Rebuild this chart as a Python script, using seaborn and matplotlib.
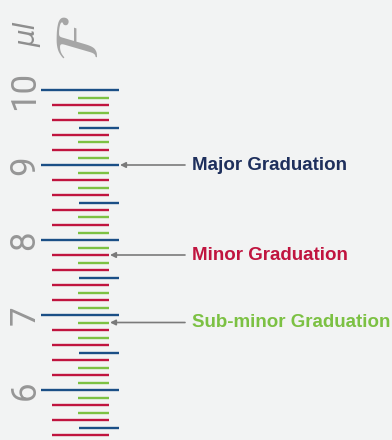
import matplotlib
matplotlib.use("Agg")
import matplotlib.pyplot as plt
import seaborn as sns
import pandas as pd

# graduation values (µl)
major = [6, 7, 8, 9, 10]
half = [5.5, 6.5, 7.5, 8.5, 9.5]
minor = [5.4, 5.6, 5.8, 6.2, 6.4, 6.6, 6.8, 7.2, 7.4, 7.6, 7.8,
         8.2, 8.4, 8.6, 8.8, 9.2, 9.4, 9.6, 9.8]
subminor = [5.7, 5.9, 6.1, 6.3, 6.7, 6.9, 7.1, 7.3, 7.7, 7.9,
            8.1, 8.3, 8.7, 8.9, 9.1, 9.3, 9.7, 9.9]
major_labels = ["6", "7", "8", "9", "10"]

# callouts: label, value it points at
callout_labels = ["Major Graduation", "Minor Graduation", "Sub-minor Graduation"]
callout_values = [9, 7.8, 6.9]

ticks = pd.concat([
    pd.DataFrame({"value": major, "kind": "major"}),
    pd.DataFrame({"value": half, "kind": "half"}),
    pd.DataFrame({"value": minor, "kind": "minor"}),
    pd.DataFrame({"value": subminor, "kind": "subminor"}),
])

sns.set_style("white")
bg = "#f2f3f3"
blue = "#1b4f86"
red = "#c0143f"
green = "#7cc143"
navy = "#1e2f5c"
grey = "#8e8e8e"

# x extents (pixels) of each tick kind
style = {
    "major": (41, 119, blue),
    "half": (79, 119, blue),
    "minor": (52, 109, red),
    "subminor": (78, 109, green),
}

fig = plt.figure(figsize=(3.92, 4.40), dpi=100, facecolor=bg)
ax = fig.add_axes([0, 0, 1, 1], facecolor=bg)
ax.set_xlim(0, 392)
ax.set_ylim(10 - 350 / 75, 10 + 90 / 75)

for kind, grp in ticks.groupby("kind"):
    x0, x1, c = style[kind]
    ax.hlines(grp["value"], x0, x1, colors=c, lw=1.7)

for v, lab in zip(major, major_labels):
    ax.text(25, v, lab, rotation=90, ha="center", va="center",
            fontsize=25, color="#969696", family="Roboto")

ax.text(27, 10 + 56 / 75, "µl", rotation=90, ha="center", va="center",
        fontsize=20, color=grey, style="italic", family="DejaVu Sans",
        fontweight="light")
plt.rcParams["mathtext.fontset"] = "stix"
ax.text(82, 10 + 52 / 75, r"$\mathcal{F}$", rotation=90, ha="center", va="center",
        fontsize=44, color="#a6a6a6")

colors = [navy, red, green]
tips = [120, 110, 110]
for lab, v, c, tip in zip(callout_labels, callout_values, colors, tips):
    ax.annotate("", xy=(tip, v), xytext=(185, v),
                arrowprops=dict(arrowstyle="-|>", color="#7a7a7a", lw=1.2,
                                mutation_scale=8, shrinkA=0, shrinkB=0))
    ax.text(192, v, lab, ha="left", va="center", fontsize=13.5,
            fontweight="bold", color=c, family="Liberation Sans")

ax.axis("off")
fig.savefig("out.png", dpi=100, facecolor=bg)
